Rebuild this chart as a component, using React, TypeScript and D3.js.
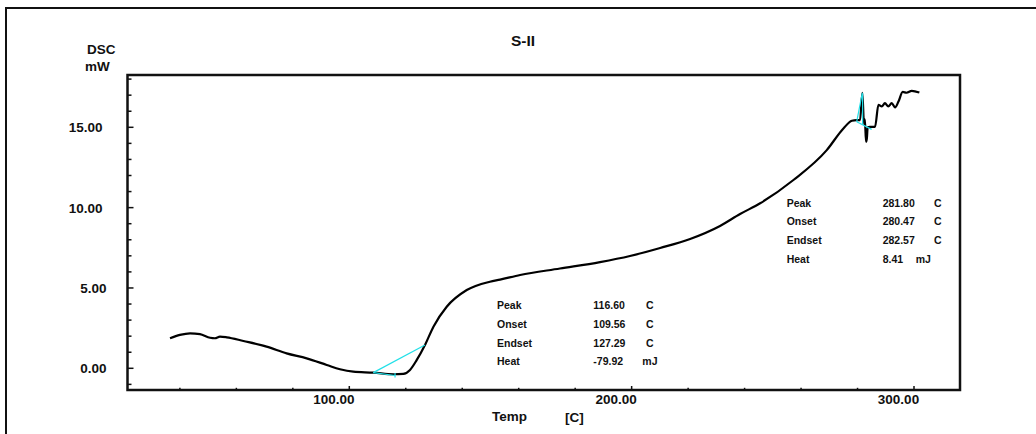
import React from "react";
import * as d3 from "d3";

const temps = [36.5, 40, 43.6, 47.1, 50.7, 52.4, 54.2, 56.6, 62.5, 70.7, 77.8, 84.9, 92, 96.7, 101.4, 108.5, 115.6, 119.1, 121.5, 123.9, 126.8, 129.8, 134.5, 141.6, 149.8, 153.4, 160.5, 174.6, 188.8, 199.4, 210.1, 220.7, 231.3, 238.4, 245.5, 257.3, 269.1, 275, 278, 279.7, 280.9, 281.7, 282.3, 282.6, 283.0, 283.3, 283.6, 284.4, 286.2, 287.4, 288.6, 289.7, 290.9, 292.1, 293.3, 294.5, 296, 297.4, 299.2, 301.9];
const dsc = [1.87, 2.08, 2.18, 2.13, 1.9, 1.87, 1.97, 1.93, 1.7, 1.35, 0.93, 0.62, 0.21, -0.06, -0.21, -0.27, -0.37, -0.35, -0.1, 0.52, 1.45, 2.59, 3.83, 4.87, 5.39, 5.52, 5.81, 6.21, 6.61, 6.99, 7.49, 8.05, 8.86, 9.6, 10.27, 11.72, 13.58, 14.93, 15.41, 15.45, 15.45, 17.15, 15.2, 15.5, 14.1, 14.3, 15.0, 15.03, 15.03, 16.4, 16.3, 16.5, 16.3, 16.5, 16.24, 16.6, 17.2, 17.15, 17.27, 17.17];

// cyan analysis lines: [T1, v1, T2, v2]
const cyanLines = [
  [108.5, -0.27, 126.8, 1.45],
  [108.5, -0.27, 116.2, -0.45],
  [116.2, -0.3, 116.2, -0.58],
  [279.7, 15.34, 285.0, 14.87],
  [279.7, 15.34, 281.7, 17.15],
  [281.8, 15.18, 281.8, 17.1],
];

const xMajor = [100, 200, 300];
const xMinor = [40, 60, 80, 120, 140, 160, 180, 220, 240, 260, 280];
const yMajor = [0, 5, 10, 15];
const yMinor = [-1, 1, 2, 3, 4, 6, 7, 8, 9, 11, 12, 13, 14, 16, 17, 18];

const ann1Labels = ["Peak", "Onset", "Endset", "Heat"];
const ann1Values = ["116.60", "109.56", "127.29", "-79.92"];
const ann1Units = ["C", "C", "C", "mJ"];
const ann2Labels = ["Peak", "Onset", "Endset", "Heat"];
const ann2Values = ["281.80", "280.47", "282.57", "8.41"];
const ann2Units = ["C", "C", "C", "mJ"];

const FONT = "'Liberation Sans', Arial, sans-serif";

export default function App() {
  const x = d3.scaleLinear().domain([100, 300]).range([349.3, 914]);
  const y = d3.scaleLinear().domain([0, 15]).range([368.3, 127.3]);
  const pts: [number, number][] = temps.map((t, i) => [t, dsc[i]]);
  const line = d3
    .line<[number, number]>()
    .x((d) => x(d[0]))
    .y((d) => y(d[1]))
    .curve(d3.curveMonotoneX);

  const left = 127.5, top = 75, right = 960, bottom = 390;

  const annRows = (labels: string[], values: string[], units: string[], lx: number, vx: number, cx: number, mx: number, y0: number, dy: number) =>
    labels.map((l, i) => (
      <g key={l + i}>
        <text x={lx} y={y0 + i * dy}>{l}</text>
        <text x={vx} y={y0 + i * dy}>{values[i]}</text>
        <text x={units[i] === "mJ" ? mx : cx} y={y0 + i * dy}>{units[i]}</text>
      </g>
    ));

  return (
    <svg width={1036} height={434} style={{ position: "absolute", left: 0, top: 0, background: "#fff" }} fontFamily={FONT} fontWeight="bold">
      <rect x={0} y={0} width={1036} height={434} fill="#fff" />
      {/* outer frame */}
      <path d="M6,436 L6,8 L1040,8" fill="none" stroke="#111" strokeWidth={2} />
      {/* title */}
      <text x={523} y={46} textAnchor="middle" fontSize={15.5} fill="#111">S-II</text>
      <text x={87} y={54} fontSize={13.5} fill="#111">DSC</text>
      <text x={85} y={71} fontSize={13.5} fill="#111">mW</text>
      {/* plot box */}
      <rect x={left} y={top} width={right - left} height={bottom - top} fill="none" stroke="#111" strokeWidth={2.5} />
      {/* y ticks */}
      {yMajor.map((v) => (
        <g key={"ym" + v}>
          <line x1={left} x2={left + 6} y1={y(v)} y2={y(v)} stroke="#111" strokeWidth={1.5} />
          <text x={v >= 10 ? 102.5 : 106.5} y={y(v) + 5} textAnchor="end" fontSize={13.5} fill="#111">{v.toFixed(2)}</text>
        </g>
      ))}
      {yMinor.map((v) => (
        <line key={"yn" + v} x1={left} x2={left + 4} y1={y(v)} y2={y(v)} stroke="#111" strokeWidth={1.5} />
      ))}
      {/* x ticks */}
      {xMajor.map((v) => (
        <g key={"xm" + v}>
          <line x1={x(v)} x2={x(v)} y1={bottom} y2={bottom - 4} stroke="#111" strokeWidth={1.5} />
          <text x={x(v) - 15.5} y={403.5} textAnchor="middle" fontSize={13.5} fill="#111">{v.toFixed(2)}</text>
        </g>
      ))}
      {xMinor.map((v) => (
        <line key={"xn" + v} x1={x(v)} x2={x(v)} y1={bottom} y2={bottom - 2.2} stroke="#111" strokeWidth={1.5} />
      ))}
      <text x={492} y={421} fontSize={13.5} fill="#111">Temp</text>
      <text x={565} y={421.5} fontSize={13.5} fill="#111">[C]</text>
      {/* curve */}
      <path d={line(pts) || ""} fill="none" stroke="#000" strokeWidth={2.2} strokeLinejoin="round" />
      {/* cyan analysis lines */}
      {cyanLines.map((c, i) => (
        <line key={"c" + i} x1={x(c[0])} y1={y(c[1])} x2={x(c[2])} y2={y(c[3])} stroke="#22e0e8" strokeWidth={1.2} />
      ))}
      {/* annotations */}
      <g fontSize={10.5} fill="#111">
        {annRows(ann1Labels, ann1Values, ann1Units, 497, 593.3, 646, 642.3, 309.3, 18.6)}
        {annRows(ann2Labels, ann2Values, ann2Units, 786.7, 882.7, 934, 915.7, 206.7, 18.7)}
      </g>
    </svg>
  );
}
